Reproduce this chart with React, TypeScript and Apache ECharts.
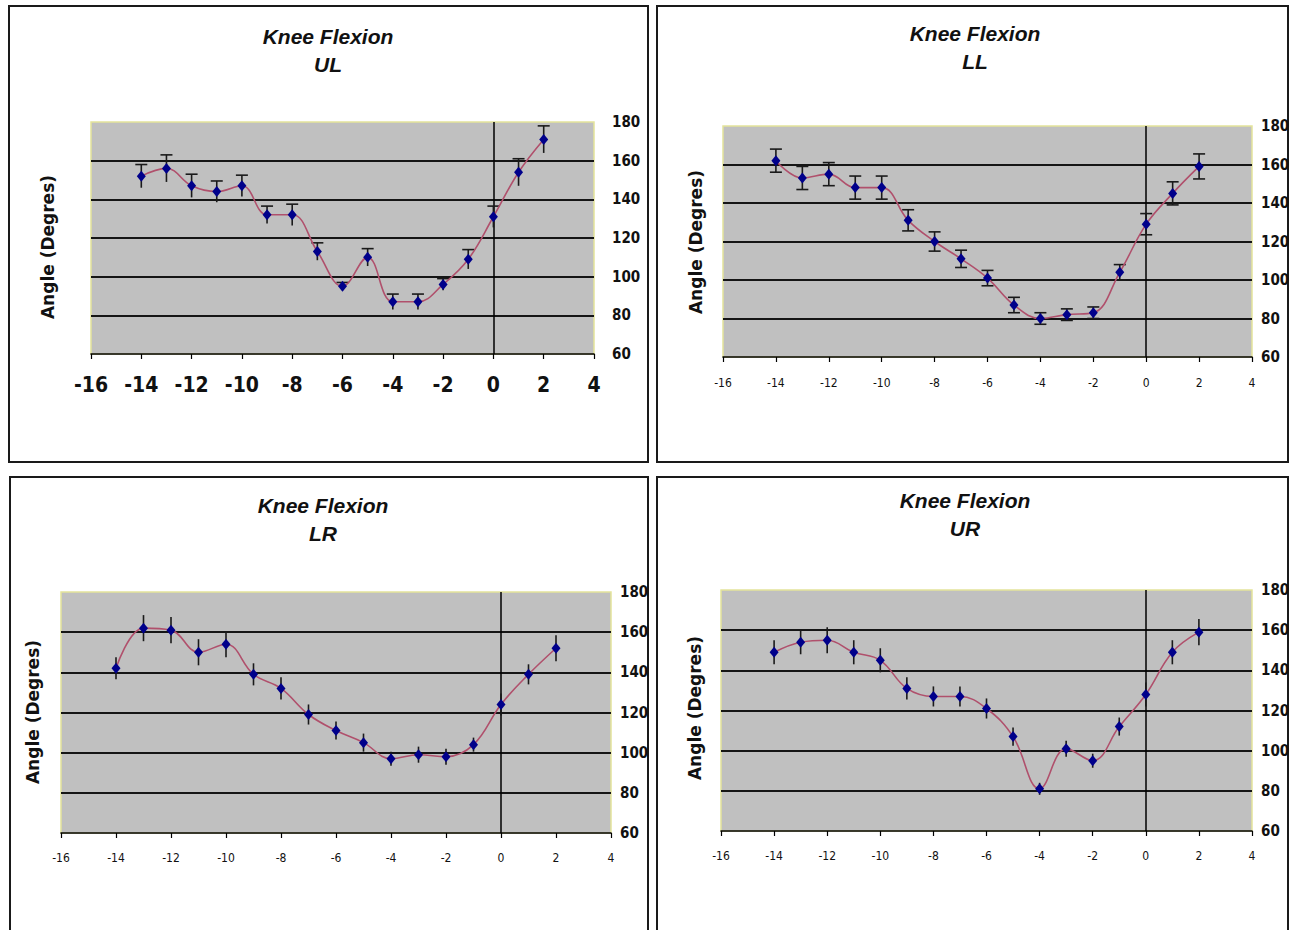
import React, { useEffect, useRef } from "react";
import * as echarts from "echarts";

// ---- data ----
const X_VALUES = [-14, -13, -12, -11, -10, -9, -8, -7, -6, -5, -4, -3, -2, -1, 0, 1, 2];

const UL_ANGLE = [152, 156, 147, 144, 147, 132, 132, 113, 95, 110, 87, 87, 96, 109, 131, 154, 171];
const UL_ERROR = [6, 7, 6, 5.5, 5.5, 4.5, 5.5, 4.5, 2, 4.5, 4, 4, 3, 5, 5.5, 7, 7];

const LL_ANGLE = [162, 153, 155, 148, 148, 131, 120, 111, 101, 87, 80, 82, 83, 104, 129, 145, 159];
const LL_ERROR = [6, 6, 6, 6, 6, 5.5, 5, 4.5, 4, 4, 3, 3, 3, 4, 5.5, 6, 6.5];

const LR_ANGLE = [142, 162, 161, 150, 154, 139, 132, 119, 111, 105, 97, 99, 98, 104, 124, 139, 152];
const LR_ERROR = [5.5, 6.5, 6.5, 6.5, 6.5, 5.5, 5.5, 5, 4.5, 4.5, 3.5, 4, 4, 3.5, 5.5, 5, 6.5];

const UR_ANGLE = [149, 154, 155, 149, 145, 131, 127, 127, 121, 107, 81, 101, 95, 112, 128, 149, 159];
const UR_ERROR = [6, 6, 6.5, 6, 6, 5.5, 5, 5, 5, 4.5, 3, 4, 3.5, 4.5, 6, 6, 6.5];

const X_RANGE = [-16, 4];
const X_STEP = 2;
const Y_RANGE = [60, 180];
const Y_STEP = 20;

const TITLE_TEXT = "Knee Flexion";
const Y_TITLE = "Angle (Degres)";

const NARROW = "'Liberation Sans Narrow', 'DejaVu Sans Condensed', 'Liberation Sans', sans-serif";

type Panel = {
  name: string;
  values: number[];
  errors: number[];
  caps: "top" | "both" | "none";
  grid: { left: number; top: number; width: number; height: number };
  xLabel: { size: number; weight: string; margin: number };
  yMargin: number;
  title: { x: number; y: number };
  yTitle: { x: number; y: number; show: boolean };
  frame: { x: number; y: number; w: number; h: number };
};

const PANELS: Panel[] = [
  {
    name: "UL",
    values: UL_ANGLE,
    errors: UL_ERROR,
    caps: "top",
    grid: { left: 91, top: 122, width: 503, height: 232 },
    xLabel: { size: 21, weight: "bold", margin: 20 },
    yMargin: 18,
    title: { x: 328, y: 36 },
    yTitle: { x: 48, y: 247, show: true },
    frame: { x: 9, y: 6, w: 639, h: 456 },
  },
  {
    name: "LL",
    values: LL_ANGLE,
    errors: LL_ERROR,
    caps: "both",
    grid: { left: 723, top: 126, width: 529, height: 231 },
    xLabel: { size: 12, weight: "normal", margin: 20 },
    yMargin: 9,
    title: { x: 975, y: 33 },
    yTitle: { x: 696, y: 242, show: true },
    frame: { x: 657, y: 6, w: 631, h: 456 },
  },
  {
    name: "LR",
    values: LR_ANGLE,
    errors: LR_ERROR,
    caps: "none",
    grid: { left: 61, top: 592, width: 550, height: 241 },
    xLabel: { size: 12, weight: "normal", margin: 19 },
    yMargin: 9,
    title: { x: 323, y: 505 },
    yTitle: { x: 33, y: 712, show: true },
    frame: { x: 10, y: 477, w: 638, h: 470 },
  },
  {
    name: "UR",
    values: UR_ANGLE,
    errors: UR_ERROR,
    caps: "none",
    grid: { left: 721, top: 590, width: 531, height: 241 },
    xLabel: { size: 12, weight: "normal", margin: 19 },
    yMargin: 9,
    title: { x: 965, y: 500 },
    yTitle: { x: 695, y: 708, show: true },
    frame: { x: 657, y: 477, w: 631, h: 470 },
  },
];

function buildOption() {
  const grid = PANELS.map((p) => ({
    left: p.grid.left,
    top: p.grid.top,
    width: p.grid.width,
    height: p.grid.height,
    show: true,
    backgroundColor: "#c0c0c0",
    borderColor: "#e4e49a",
    borderWidth: 1.5,
  }));

  const xAxis = PANELS.map((p, i) => ({
    gridIndex: i,
    type: "value",
    min: X_RANGE[0],
    max: X_RANGE[1],
    interval: X_STEP,
    axisLine: { show: true, onZero: false, lineStyle: { color: "#000", width: 1.5 } },
    axisTick: { show: true, length: 5, lineStyle: { color: "#000", width: 1.2 } },
    axisLabel: {
      color: "#111",
      fontFamily: NARROW,
      fontSize: p.xLabel.size,
      fontWeight: p.xLabel.weight,
      margin: p.xLabel.margin,
    },
    splitLine: { show: false },
  }));

  const yAxis = PANELS.map((p, i) => ({
    gridIndex: i,
    type: "value",
    position: "right",
    min: Y_RANGE[0],
    max: Y_RANGE[1],
    interval: Y_STEP,
    axisLine: { show: false },
    axisTick: { show: false },
    axisLabel: {
      color: "#111",
      fontFamily: NARROW,
      fontSize: 15,
      fontWeight: "bold",
      margin: p.yMargin,
    },
    splitLine: {
      show: true,
      showMinLine: false,
      showMaxLine: false,
      lineStyle: { color: "#151515", width: 2 },
    },
  }));

  const series: any[] = [];
  PANELS.forEach((p, i) => {
    const caps = p.caps;
    series.push({
      name: p.name + " error",
      type: "custom",
      xAxisIndex: i,
      yAxisIndex: i,
      z: 3,
      silent: true,
      encode: { x: 0, y: 1 },
      data: X_VALUES.map((x, j) => [x, p.values[j], p.errors[j]]),
      renderItem: (params: any, api: any) => {
        const x = api.value(0);
        const v = api.value(1);
        const e = api.value(2);
        const t = api.coord([x, v + e]);
        const b = api.coord([x, v - e]);
        const style = { stroke: "#1a1a1a", lineWidth: 1.6 };
        const children: any[] = [
          { type: "line", shape: { x1: t[0], y1: t[1], x2: b[0], y2: b[1] }, style },
        ];
        if (caps === "top" || caps === "both") {
          children.push({ type: "line", shape: { x1: t[0] - 6, y1: t[1], x2: t[0] + 6, y2: t[1] }, style });
        }
        if (caps === "both") {
          children.push({ type: "line", shape: { x1: b[0] - 6, y1: b[1], x2: b[0] + 6, y2: b[1] }, style });
        }
        return { type: "group", children };
      },
    });
    series.push({
      name: p.name,
      type: "line",
      xAxisIndex: i,
      yAxisIndex: i,
      z: 4,
      smooth: 0.4,
      data: X_VALUES.map((x, j) => [x, p.values[j]]),
      symbol: "diamond",
      symbolSize: [9, 11],
      itemStyle: { color: "#00008b" },
      lineStyle: { color: "#b0506c", width: 1.6 },
      markLine: {
        silent: true,
        symbol: ["none", "none"],
        label: { show: false },
        lineStyle: { color: "#000", width: 1.5, type: "solid" },
        data: [{ xAxis: 0 }],
        z: 2,
      },
    });
  });

  const graphic: any[] = [];
  PANELS.forEach((p) => {
    graphic.push({
      type: "rect",
      shape: { x: p.frame.x, y: p.frame.y, width: p.frame.w, height: p.frame.h },
      style: { fill: "none", stroke: "#1a1a1a", lineWidth: 2 },
      z: 0,
      silent: true,
    });
    graphic.push({
      type: "text",
      x: p.title.x,
      y: p.title.y,
      style: {
        text: TITLE_TEXT,
        fontFamily: "'Liberation Sans', sans-serif",
        fontSize: 21,
        fontWeight: "bold",
        fontStyle: "italic",
        fill: "#111",
        textAlign: "center",
        textVerticalAlign: "middle",
      },
      z: 10,
    });
    graphic.push({
      type: "text",
      x: p.title.x,
      y: p.title.y + 28,
      style: {
        text: p.name,
        fontFamily: "'Liberation Sans', sans-serif",
        fontSize: 21,
        fontWeight: "bold",
        fontStyle: "italic",
        fill: "#111",
        textAlign: "center",
        textVerticalAlign: "middle",
      },
      z: 10,
    });
    if (p.yTitle.show) {
      graphic.push({
        type: "text",
        x: p.yTitle.x,
        y: p.yTitle.y,
        rotation: Math.PI / 2,
        style: {
          text: Y_TITLE,
          fontFamily: "'DejaVu Sans', sans-serif",
          fontSize: 17,
          fontWeight: "bold",
          fill: "#111",
          textAlign: "center",
          textVerticalAlign: "middle",
        },
        z: 10,
      });
    }
  });

  return {
    animation: false,
    backgroundColor: "#ffffff",
    grid,
    xAxis,
    yAxis,
    series,
    graphic,
  };
}

export default function App() {
  const ref = useRef<HTMLDivElement>(null);
  useEffect(() => {
    if (!ref.current) return;
    const chart = echarts.init(ref.current, null, { renderer: "svg" });
    chart.setOption(buildOption() as any);
    return () => chart.dispose();
  }, []);
  return (
    <div
      ref={ref}
      style={{ position: "fixed", left: 0, top: 0, width: 1297, height: 930, background: "#fff" }}
    />
  );
}
